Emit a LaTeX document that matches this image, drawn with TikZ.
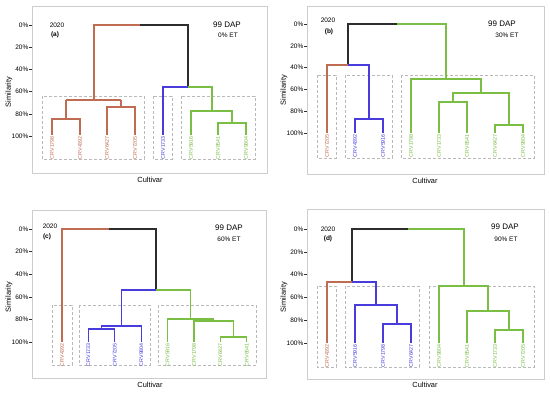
\documentclass[tikz,border=0pt]{standalone}
\usepackage{fontspec}
\setmainfont{Liberation Sans}
\definecolor{cred}{RGB}{192,108,82}
\definecolor{cblue}{RGB}{72,60,220}
\definecolor{cgreen}{RGB}{122,190,68}
\definecolor{cblack}{RGB}{45,45,45}
\definecolor{cbox}{RGB}{185,185,185}
\definecolor{cframe}{RGB}{205,205,205}
\tikzset{
  br/.style={line width=1.3pt},
  rb/.style={br, draw=cred},
  bb/.style={br, draw=cblue},
  gb/.style={br, draw=cgreen},
  kb/.style={br, draw=cblack},
  grp/.style={draw=cbox, dash pattern=on 3pt off 2pt, line width=0.7pt},
  frm/.style={draw=cframe, line width=0.9pt},
  leaf/.style={rotate=90, anchor=east, inner sep=0pt, font=\fontsize{5.3}{6}\selectfont},
  ylab/.style={anchor=east, inner sep=0pt, font=\fontsize{6.5}{7}\selectfont},
  ttl/.style={inner sep=0pt, font=\fontsize{6.5}{7}\selectfont},
  pl/.style={inner sep=0pt, font=\bfseries\fontsize{6.5}{7}\selectfont},
  dap/.style={inner sep=0pt, font=\fontsize{8}{9}\selectfont},
  axt/.style={inner sep=0pt, font=\fontsize{7.4}{8}\selectfont},
}
\newcommand{\yaxis}[4]{% name, top y, step, frame left
  \foreach \v [count=\k from 0] in {0,20,40,60,80,100}{
    \node[ylab] (#1y\k) at (#4-3.5,{#2+\k*#3}) {\v\%};
    \draw[draw=cblack,line width=0.5pt] (#4-3,{#2+\k*#3}) -- (#4,{#2+\k*#3});
  }
}
\begin{document}
\begin{tikzpicture}[x=1pt,y=-1pt]
\useasboundingbox (0,0) rectangle (550,392);
\fill[white] (0,0) rectangle (550,392);

%% ---------------- Panel (a) ----------------
\draw[frm] (32,6) rectangle (267,173);
\yaxis{a}{25}{22.2}{32}
\node[axt,rotate=90] (asim) at (9,92) {Similarity};
\node[axt] (acul) at (150,180) {Cultivar};
\node[ttl] (ayr) at (57,25) {2020};
\node[pl] (alab) at (55,35) {(a)};
\node[dap] (adap) at (227,25) {99 DAP};
\node[ttl] (aet) at (228,35) {0\% ET};
\draw[grp] (42,96) rectangle (144,159);
\draw[grp] (153,96) rectangle (172,159);
\draw[grp] (181,96) rectangle (255,159);
\draw[rb] (140,25) -- (94,25) -- (94,100);
\draw[rb] (66,100) -- (121,100);
\draw[rb] (52,135) |- (66,119) -| (80,135);
\draw[rb] (66,100) -- (66,119);
\draw[rb] (107,135) |- (121,107) -| (135,135);
\draw[rb] (121,100) -- (121,107);
\draw[kb] (140,25) -- (188,25) -- (188,87);
\draw[bb] (188,87) -- (163,87) -- (163,135);
\draw[gb] (188,87) -- (212,87) -- (212,111);
\draw[gb] (191,135) |- (212,111) -| (232,123);
\draw[gb] (218,135) |- (232,123) -| (246,135);
\node[leaf,text=cred] (a1) at (52,136) {CRV1798};
\node[leaf,text=cred] (a2) at (80,136) {CRV4392};
\node[leaf,text=cred] (a3) at (107,136) {CRV6427};
\node[leaf,text=cred] (a4) at (135,136) {CRV7205};
\node[leaf,text=cblue] (a5) at (163,136) {CRV1733};
\node[leaf,text=cgreen] (a6) at (191,136) {CRV5916};
\node[leaf,text=cgreen] (a7) at (218,136) {CRV8541};
\node[leaf,text=cgreen] (a8) at (246,136) {CRV9804};

%% ---------------- Panel (b) ----------------
\draw[frm] (307,6) rectangle (544,174);
\yaxis{b}{24}{21.8}{307}
\node[axt,rotate=90] (bsim) at (284,90) {Similarity};
\node[axt] (bcul) at (425,181) {Cultivar};
\node[ttl] (byr) at (328,20) {2020};
\node[pl] (blab) at (329,32) {(b)};
\node[dap] (bdap) at (502,24) {99 DAP};
\node[ttl] (bet) at (507,35) {30\% ET};
\draw[grp] (317,75) rectangle (336,158);
\draw[grp] (345,75) rectangle (392,158);
\draw[grp] (401,75) rectangle (534,158);
\draw[kb] (397,24) -- (348,24) -- (348,65);
\draw[rb] (348,65) -- (327,65) -- (327,133);
\draw[bb] (348,65) -- (369,65) -- (369,119);
\draw[bb] (355,133) |- (369,119) -| (383,133);
\draw[gb] (397,24) -- (446,24) -- (446,79);
\draw[gb] (411,133) |- (446,79) -| (481,93);
\draw[gb] (453,102) |- (481,93) -| (509,125);
\draw[gb] (439,133) |- (453,102) -| (467,133);
\draw[gb] (495,133) |- (509,125) -| (523,133);
\node[leaf,text=cred] (b1) at (327,134) {CRV7205};
\node[leaf,text=cblue] (b2) at (355,134) {CRV4392};
\node[leaf,text=cblue] (b3) at (383,134) {CRV5916};
\node[leaf,text=cgreen] (b4) at (411,134) {CRV1798};
\node[leaf,text=cgreen] (b5) at (439,134) {CRV1733};
\node[leaf,text=cgreen] (b6) at (467,134) {CRV8541};
\node[leaf,text=cgreen] (b7) at (495,134) {CRV6427};
\node[leaf,text=cgreen] (b8) at (523,134) {CRV9804};

%% ---------------- Panel (c) ----------------
\draw[frm] (32,210) rectangle (266,378);
\yaxis{c}{229}{22.6}{32}
\node[axt,rotate=90] (csim) at (9,297) {Similarity};
\node[axt] (ccul) at (150,385) {Cultivar};
\node[ttl] (cyr) at (50,226) {2020};
\node[pl] (clab) at (47,237) {(c)};
\node[dap] (cdap) at (229,228) {99 DAP};
\node[ttl] (cet) at (229,239) {60\% ET};
\draw[grp] (52,305) rectangle (72,365);
\draw[grp] (79,305) rectangle (150,365);
\draw[grp] (158,305) rectangle (256,365);
\draw[rb] (109,229) -- (62,229) -- (62,342);
\draw[kb] (109,229) -- (156,229) -- (156,290);
\draw[bb] (156,290) -- (121.4,290) -- (121.4,326);
\draw[bb] (101.6,329) |- (121.4,326) -| (141.2,342);
\draw[bb] (88.4,342) |- (101.6,329) -| (114.8,342);
\draw[gb] (156,290) -- (190.7,290) -- (190.7,319);
\draw[gb] (167.6,342) |- (190.7,319) -| (213.8,321);
\draw[gb] (194,342) |- (213.8,321) -| (233.6,337);
\draw[gb] (220.4,342) |- (233.6,337) -| (246.8,342);
\node[leaf,text=cred] (c1) at (62,343) {CRV4392};
\node[leaf,text=cblue] (c2) at (88.4,343) {CRV1733};
\node[leaf,text=cblue] (c3) at (114.8,343) {CRV7205};
\node[leaf,text=cblue] (c4) at (141.2,343) {CRV9804};
\node[leaf,text=cgreen] (c5) at (167.6,343) {CRV5916};
\node[leaf,text=cgreen] (c6) at (194,343) {CRV1798};
\node[leaf,text=cgreen] (c7) at (220.4,343) {CRV6427};
\node[leaf,text=cgreen] (c8) at (246.8,343) {CRV8541};

%% ---------------- Panel (d) ----------------
\draw[frm] (307,209) rectangle (544,379);
\yaxis{d}{229}{22.8}{307}
\node[axt,rotate=90] (dsim) at (284,297) {Similarity};
\node[axt] (dcul) at (425,385) {Cultivar};
\node[ttl] (dyr) at (328,229) {2020};
\node[pl] (dlab) at (328,239) {(d)};
\node[dap] (ddap) at (505,227) {99 DAP};
\node[ttl] (det) at (506,239) {90\% ET};
\draw[grp] (317,286) rectangle (336,367);
\draw[grp] (345,286) rectangle (419,367);
\draw[grp] (429,286) rectangle (534,367);
\draw[kb] (408,229) -- (352,229) -- (352,282);
\draw[rb] (352,282) -- (327,282) -- (327,343);
\draw[bb] (352,282) -- (376,282) -- (376,305);
\draw[bb] (355,343) |- (376,305) -| (397,324);
\draw[bb] (383,343) |- (397,324) -| (411,343);
\draw[gb] (408,229) -- (464,229) -- (464,286);
\draw[gb] (439,343) |- (464,286) -| (488,311);
\draw[gb] (467,343) |- (488,311) -| (509,330);
\draw[gb] (495,343) |- (509,330) -| (523,343);
\node[leaf,text=cred] (d1) at (327,344) {CRV4392};
\node[leaf,text=cblue] (d2) at (355,344) {CRV5916};
\node[leaf,text=cblue] (d3) at (383,344) {CRV1798};
\node[leaf,text=cblue] (d4) at (411,344) {CRV6427};
\node[leaf,text=cgreen] (d5) at (439,344) {CRV9804};
\node[leaf,text=cgreen] (d6) at (467,344) {CRV8541};
\node[leaf,text=cgreen] (d7) at (495,344) {CRV1733};
\node[leaf,text=cgreen] (d8) at (523,344) {CRV7205};
\end{tikzpicture}
\end{document}
